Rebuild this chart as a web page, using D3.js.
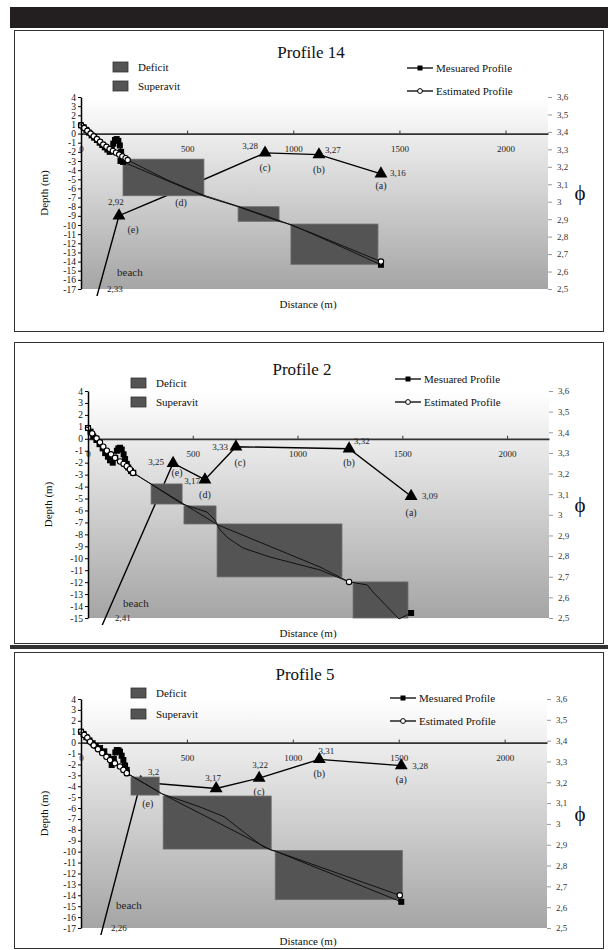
<!DOCTYPE html>
<html>
<head>
<meta charset="utf-8">
<script src="https://cdn.jsdelivr.net/npm/d3@7"></script>
<style>
  body { margin: 0; background: #fff; }
  svg { display: block; font-family: "Liberation Serif", "Times New Roman", serif; }
</style>
</head>
<body>
<div id="chart"></div>
<script>
// ---- data ----
const xTicks = [0, 500, 1000, 1500, 2000];
const phiTicks = [2.5, 2.6, 2.7, 2.8, 2.9, 3, 3.1, 3.2, 3.3, 3.4, 3.5, 3.6];
const pointLetters = ["(a)", "(b)", "(c)", "(d)", "(e)"];
const titles = ["Profile 14", "Profile 2", "Profile 5"];

// Profile 14: [distance m, depth m]
const p14Measured = [[0,0.9],[12,0.7],[25,0.4],[38,0.1],[50,-0.2],[62,-0.45],[75,-0.7],[88,-1.0],[100,-1.25],[112,-1.5],[124,-1.75],[135,-2.0],[145,-1.7],[152,-1.1],[160,-0.7],[168,-0.6],[176,-0.8],[183,-1.3],[189,-2.0],[193,-2.6],[186,-3.0],[198,-3.1],[579,-6.85],[740,-8.0],[933,-9.6],[989,-9.95],[1200,-12.1],[1413,-14.35]];
const p14Estimated = [[0,0.9],[15,0.6],[30,0.3],[45,0.0],[60,-0.3],[75,-0.6],[90,-0.9],[105,-1.2],[120,-1.45],[135,-1.7],[150,-1.9],[165,-2.1],[180,-2.3],[195,-2.5],[210,-2.7],[220,-2.9],[400,-5.0],[579,-6.75],[740,-7.95],[933,-9.5],[1100,-11.0],[1413,-14.0]];
const p14PhiDist = [1413, 1121, 867, 471, 179, 46];   // a, b, c, d, e, beach
const p14Phi = [3.16, 3.27, 3.28, 3.07, 2.92, 2.33];
const p14Boxes = [[198, 579, -2.8, -6.8], [740, 933, -8.0, -9.6], [989, 1399, -9.9, -14.3]];

// Profile 2
const p2Measured = [[0,0.9],[12,0.6],[25,0.2],[40,-0.1],[55,-0.45],[70,-0.8],[82,-1.2],[95,-1.5],[105,-1.8],[118,-2.0],[130,-1.6],[138,-1.0],[145,-0.8],[153,-0.75],[161,-0.9],[170,-1.3],[177,-1.7],[185,-2.1],[192,-2.4],[205,-2.7],[216,-2.84],[449,-5.46],[568,-6.13],[606,-6.8],[630,-7.63],[668,-8.3],[740,-9.14],[869,-9.9],[1107,-10.98],[1246,-11.98],[1332,-12.23],[1360,-12.82],[1484,-15.08],[1542,-14.58]];
const p2Estimated = [[0,0.9],[20,0.45],[41,0.04],[57,-0.3],[73,-0.66],[90,-1.0],[110,-1.3],[129,-1.6],[153,-1.9],[170,-2.1],[185,-2.3],[200,-2.55],[215,-2.86],[620,-7.21],[1107,-10.73],[1246,-11.98]];
const p2PhiDist = [1542, 1246, 706, 558, 406, 44];
const p2Phi = [3.09, 3.32, 3.33, 3.17, 3.25, 2.41];
const p2Boxes = [[301, 449, -3.78, -5.46], [458, 611, -5.62, -7.13], [616, 1212, -7.13, -11.56], [1265, 1527, -11.98, -15.0]];

// Profile 5
const p5Measured = [[0,1.0],[12,0.8],[25,0.5],[40,0.2],[55,-0.05],[70,-0.3],[90,-0.5],[110,-0.8],[129,-1.3],[145,-2.05],[155,-1.5],[162,-0.9],[169,-0.68],[177,-0.7],[184,-0.83],[192,-1.2],[200,-1.6],[208,-2.1],[216,-2.5],[217,-2.8],[383,-4.7],[898,-9.85],[917,-9.95],[1512,-14.6]];
const p5Estimated = [[0,1.0],[15,0.7],[30,0.45],[43,0.08],[60,-0.25],[80,-0.6],[100,-0.95],[120,-1.3],[137,-1.6],[160,-1.9],[184,-2.2],[200,-2.5],[216,-2.8],[383,-4.7],[562,-5.9],[676,-6.8],[775,-8.3],[860,-9.55],[898,-9.85],[917,-9.95],[1505,-14.0]];
const p5PhiDist = [1512, 1125, 841, 638, 282, 41];
const p5Phi = [3.28, 3.31, 3.22, 3.17, 3.2, 2.26];
const p5Boxes = [[236, 369, -3.16, -4.81], [388, 898, -4.9, -9.76], [917, 1517, -9.9, -14.4]];

// ---- layout ----
const panels = [
  { frame: [14, 30, 589, 301], plot: { l: 81, r: 548, t: 97, b: 289 }, depthMin: -17,
    measured: p14Measured, estimated: p14Estimated, phiDist: p14PhiDist, phi: p14Phi, boxes: p14Boxes,
    valOff: [[9, 2, "start"], [6, -2, "start"], [-7, -4, "end"], [-7, -4, "end"], [-3, -11, "middle"]],
    letOff: [[0, 15], [0, 18], [0, 18], [0, 16], [14, 17]],
    beach: [36, -13, 26, 3], title: [311, 58], legL: [113, 62, 19], legR: [407, 68, 23], depthX: 44, distY: 308 },
  { frame: [14, 342, 589, 301], plot: { l: 88, r: 549, t: 391, b: 618 }, depthMin: -15,
    measured: p2Measured, estimated: p2Estimated, phiDist: p2PhiDist, phi: p2Phi, boxes: p2Boxes,
    valOff: [[11, 3, "start"], [5, -5, "start"], [-8, 3, "end"], [-5, 4, "end"], [-9, 2, "end"]],
    letOff: [[0, 20], [0, 17], [4, 19], [0, 18], [4, 13]],
    beach: [35, -11, 27, 3], title: [302, 375], legL: [131, 378, 19], legR: [395, 379, 23], depthX: 48, distY: 637 },
  { frame: [14, 652, 589, 296], plot: { l: 81, r: 547, t: 699, b: 928 }, depthMin: -17,
    measured: p5Measured, estimated: p5Estimated, phiDist: p5PhiDist, phi: p5Phi, boxes: p5Boxes,
    valOff: [[11, 3, "start"], [7, -5, "middle"], [1, -10, "middle"], [-3, -8, "middle"], [13, -7, "middle"]],
    letOff: [[0, 17], [0, 18], [0, 17], [0, 17], [7, 25]],
    beach: [35, -19, 30, 3], title: [305, 680], legL: [131, 688, 21], legR: [390, 698, 23], depthX: 44, distY: 945 }
];
panels.forEach((p, i) => p.title_text = titles[i]);

const svg = d3.select("#chart").append("svg")
  .attr("width", 608).attr("height", 950);

const defs = svg.append("defs");
const grad = defs.append("linearGradient").attr("id", "bg")
  .attr("x1", 0).attr("y1", 0).attr("x2", 0).attr("y2", 1);
grad.append("stop").attr("offset", "0%").attr("stop-color", "#ffffff");
grad.append("stop").attr("offset", "100%").attr("stop-color", "#a5a5a5");

// dark header band and separator
svg.append("rect").attr("x", 10).attr("y", 7).attr("width", 598).attr("height", 21).attr("fill", "#231f20");
svg.append("rect").attr("x", 10).attr("y", 645).attr("width", 598).attr("height", 4).attr("fill", "#333");

const fmtComma = v => String(v).replace(".", ",");

panels.forEach((p, i) => {
  const g = svg.append("g");
  const { l, r, t, b } = p.plot;

  const x = d3.scaleLinear().domain([0, 2200]).range([l, r]);
  const y = d3.scaleLinear().domain([p.depthMin, 4]).range([b, t]);
  const yPhi = d3.scaleLinear().domain([2.5, 3.6]).range([b, t]);

  // frame
  g.append("rect")
    .attr("x", p.frame[0] + 0.5).attr("y", p.frame[1] + 0.5)
    .attr("width", p.frame[2]).attr("height", p.frame[3])
    .attr("fill", "none").attr("stroke", "#333").attr("stroke-width", 1);

  // plot background
  g.append("rect")
    .attr("x", l).attr("y", t).attr("width", r - l).attr("height", b - t)
    .attr("fill", "url(#bg)");

  defs.append("clipPath").attr("id", "clip" + i)
    .append("rect").attr("x", l).attr("y", t).attr("width", r - l).attr("height", b - t + 7);

  // zero line axis
  const xAxis = g.append("g")
    .attr("transform", `translate(0,${y(0)})`)
    .call(d3.axisBottom(x).tickValues(xTicks).tickSizeInner(-3).tickSizeOuter(0)
      .tickPadding(12).tickFormat(d3.format("d")));
  xAxis.select(".domain").attr("stroke", "#333").attr("stroke-width", 1.8);
  xAxis.selectAll(".tick line").attr("stroke", "#333");
  xAxis.selectAll("text").attr("font-family", "Liberation Serif").attr("font-size", 9).attr("fill", "#222");

  // phi (sorting) line with triangles
  const phiPts = p.phi.map((v, k) => [p.phiDist[k], v]);
  const phiLine = d3.line().x(d => x(d[0])).y(d => yPhi(d[1]));
  g.append("path")
    .attr("d", phiLine(phiPts))
    .attr("clip-path", `url(#clip${i})`)
    .attr("fill", "none").attr("stroke", "#000").attr("stroke-width", 1.4);

  g.selectAll(".tri")
    .data(phiPts.slice(0, 5))
    .join("path")
    .attr("class", "tri")
    .attr("d", d3.symbol(d3.symbolTriangle, 72))
    .attr("transform", d => `translate(${x(d[0])},${yPhi(d[1])})`)
    .attr("fill", "#000");

  phiPts.slice(0, 5).forEach((d, k) => {
    const px = x(d[0]), py = yPhi(d[1]);
    g.append("text")
      .attr("x", px + p.valOff[k][0]).attr("y", py + p.valOff[k][1])
      .attr("text-anchor", p.valOff[k][2])
      .attr("font-size", 9).attr("fill", "#222")
      .text(fmtComma(d[1]));
    g.append("text")
      .attr("x", px + p.letOff[k][0]).attr("y", py + p.letOff[k][1])
      .attr("text-anchor", "middle")
      .attr("font-size", 10).attr("fill", "#222")
      .text(pointLetters[k]);
  });

  // beach labels
  g.append("text").attr("x", l + p.beach[0]).attr("y", b + p.beach[1])
    .attr("font-size", 11).attr("fill", "#222").text("beach");
  g.append("text").attr("x", l + p.beach[2]).attr("y", b + p.beach[3])
    .attr("font-size", 9).attr("fill", "#222").text(fmtComma(p.phi[5]));

  // deficit / superavit boxes
  g.selectAll(".box")
    .data(p.boxes)
    .join("rect")
    .attr("class", "box")
    .attr("x", d => x(d[0])).attr("y", d => y(d[2]))
    .attr("width", d => x(d[1]) - x(d[0])).attr("height", d => y(d[3]) - y(d[2]))
    .attr("fill", "#545454").attr("stroke", "#6c6c6c").attr("stroke-width", 0.8);

  // profiles
  const profLine = d3.line().x(d => x(d[0])).y(d => y(d[1]));
  [p.estimated, p.measured].forEach(s => {
    g.append("path").attr("d", profLine(s))
      .attr("clip-path", `url(#clip${i})`)
      .attr("fill", "none").attr("stroke", "#111").attr("stroke-width", 1);
  });
  const marked = s => s.filter((d, k) => d[0] < 230 || k === s.length - 1);
  g.selectAll(".sq")
    .data(marked(p.measured))
    .join("rect").attr("class", "sq")
    .attr("x", d => x(d[0]) - 3).attr("y", d => y(d[1]) - 3)
    .attr("width", 6).attr("height", 6).attr("fill", "#000");
  g.selectAll(".ci")
    .data(marked(p.estimated))
    .join("circle").attr("class", "ci")
    .attr("cx", d => x(d[0])).attr("cy", d => y(d[1])).attr("r", 2.7)
    .attr("fill", "#fff").attr("stroke", "#000").attr("stroke-width", 1.1);

  // left axis
  const yAxis = g.append("g")
    .attr("transform", `translate(${l},0)`)
    .call(d3.axisLeft(y).tickValues(d3.range(p.depthMin, 5)).tickSize(3).tickSizeOuter(0)
      .tickPadding(2).tickFormat(d => String(d)));
  yAxis.select(".domain").attr("stroke", "#000").attr("stroke-width", 1.5);
  yAxis.selectAll(".tick line").attr("stroke", "#000");
  yAxis.selectAll("text").attr("font-family", "Liberation Serif").attr("font-size", 9.5).attr("fill", "#111");

  // right axis (phi)
  const rAxis = g.append("g")
    .attr("transform", `translate(${r},0)`)
    .call(d3.axisRight(yPhi).tickValues(phiTicks).tickSize(4).tickPadding(5).tickFormat(fmtComma));
  rAxis.select(".domain").remove();
  rAxis.selectAll(".tick line").attr("stroke", "#999");
  rAxis.selectAll("text").attr("font-family", "Liberation Serif").attr("font-size", 9).attr("fill", "#333");

  g.append("text").attr("x", 580).attr("y", (t + b) / 2 + 7)
    .attr("text-anchor", "middle").attr("font-size", 21).attr("fill", "#111").text("ϕ");

  // titles
  g.append("text").attr("x", p.title[0]).attr("y", p.title[1])
    .attr("text-anchor", "middle").attr("font-size", 17).attr("fill", "#111").text(p.title_text);
  g.append("text")
    .attr("transform", `translate(${p.depthX},${(t + b) / 2}) rotate(-90)`)
    .attr("text-anchor", "middle").attr("dy", "0.35em")
    .attr("font-size", 11).attr("fill", "#111").text("Depth (m)");
  g.append("text").attr("x", 308).attr("y", p.distY)
    .attr("text-anchor", "middle").attr("font-size", 11).attr("fill", "#111").text("Distance (m)");

  // left legend
  ["Deficit", "Superavit"].forEach((name, k) => {
    const ly = p.legL[1] + k * p.legL[2];
    g.append("rect").attr("x", p.legL[0]).attr("y", ly).attr("width", 15).attr("height", 10)
      .attr("fill", "#545454").attr("stroke", "#333").attr("stroke-width", 0.8);
    g.append("text").attr("x", p.legL[0] + 25).attr("y", ly + 9)
      .attr("font-size", 11).attr("fill", "#111").text(name);
  });

  // right legend
  ["Mesuared Profile", "Estimated Profile"].forEach((name, k) => {
    const lx = p.legR[0], ly = p.legR[1] + k * p.legR[2];
    g.append("line").attr("x1", lx).attr("x2", lx + 26).attr("y1", ly).attr("y2", ly)
      .attr("stroke", "#000").attr("stroke-width", 1.3);
    if (k === 0) {
      g.append("rect").attr("x", lx + 10.5).attr("y", ly - 2.5).attr("width", 5).attr("height", 5).attr("fill", "#000");
    } else {
      g.append("circle").attr("cx", lx + 13).attr("cy", ly).attr("r", 2.4)
        .attr("fill", "#fff").attr("stroke", "#000");
    }
    g.append("text").attr("x", lx + 29).attr("y", ly + 4)
      .attr("font-size", 11).attr("fill", "#111").text(name);
  });
});
</script>
</body>
</html>
